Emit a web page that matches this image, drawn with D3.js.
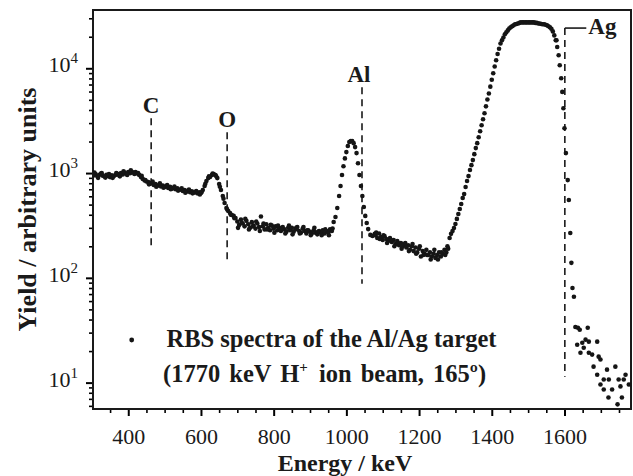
<!DOCTYPE html>
<html>
<head>
<meta charset="utf-8">
<script src="https://cdnjs.cloudflare.com/ajax/libs/d3/7.8.5/d3.min.js"></script>
<style>
  body { margin: 0; background: #fff; }
  svg text { font-family: "Liberation Serif", "Times New Roman", serif; fill: #1a1a1a; }
</style>
</head>
<body>
<div class="chart"></div>
<script>
// RBS spectrum, [energy keV, yield]
var substrateLow = [[305,950],[310,980],[315,930],[320,960],[325,990],[330,945],[335,925],[340,960],[345,935],[350,915],
  [355,950],[360,930],[365,960],[370,985],[375,950],[380,1000],[385,970],[390,1010],[395,985],[400,1020],[405,995],
  [410,1030],[415,1005],[420,1025],[425,990],[430,960],[435,915],[440,880],[445,850],[450,830],[455,820],[460,790],
  [465,805],[470,770],[475,785],[480,755],[485,770],[490,745],[495,760],[500,735],[505,750],[510,720],[515,740],
  [520,710],[525,725],[530,700],[535,715],[540,690],[545,700],[550,675],[555,690],[560,665],[565,680],[570,655],
  [575,670],[580,650],[585,660],[590,640],[595,655],[600,645],[605,689],[610,752],[615,840],[620,895],[625,916],
  [630,957],[635,978],[640,957],[645,895],[650,785],[655,689],[660,605],[665,518],[670,464],[675,435],[680,416],
  [685,398],[690,390],[695,373]];

var substrateScatter = [[307,1010],[317,900],[327,1000],[337,905],[347,980],[357,900],[367,1000],[377,930],[387,1040],
  [397,960],[407,1060],[417,980],[427,1000],[437,940],[447,860],[457,780],[467,830],[477,740],[487,800],[497,725],
  [507,770],[517,700],[527,745],[537,680],[547,715],[557,650],[567,695],[577,640],[587,675],[597,625],[602,660],
  [612,790],[622,930],[632,990],[642,930],[652,740],[662,570],[672,450],[682,400],[692,370]];

var midBand = [[700,345],[705,320],[710,360],[715,330],[720,310],[725,350],[730,325],[735,300],[740,340],[745,315],
  [750,295],[755,330],[760,305],[765,385],[770,310],[775,290],[780,325],[785,300],[790,285],[795,315],[800,295],
  [805,310],[810,285],[815,300],[820,280],[825,305],[830,290],[835,275],[840,300],[845,285],[850,300],[855,275],
  [860,290],[865,305],[870,280],[875,270],[880,295],[885,280],[890,265],[895,285],[900,275],[905,265],[910,285],
  [915,270],[920,260],[925,280],[930,270],[935,285],[940,265],[945,280],[950,270],[955,290],[960,280]];

var midScatter = [[702,300],[712,335],[722,365],[732,290],[742,310],[752,345],[762,280],[772,330],[782,290],[792,320],
  [802,270],[812,315],[822,290],[832,265],[842,315],[852,260],[862,300],[872,265],[882,305],[892,285],[902,255],
  [912,300],[922,275],[932,255],[942,290],[952,255],[962,295]];

var alPeak = [[965,341],[970,381],[975,464],[980,605],[984,752],[988,957],[992,1160],[996,1380],[1000,1585],
  [1004,1810],[1008,1980],[1012,2020],[1016,2020],[1020,1930],[1024,1770],[1028,1550],[1032,1240],[1036,957],
  [1040,752],[1044,605],[1048,474],[1052,390],[1056,334],[1060,292],[1066,257],[1072,251],[1078,263]];

var gapBand = [[1080,255],[1085,240],[1090,265],[1095,245],[1100,230],[1105,250],[1110,235],[1115,225],[1120,240],
  [1125,220],[1130,230],[1135,210],[1140,225],[1145,205],[1150,215],[1155,200],[1160,210],[1165,195],[1170,205],
  [1175,185],[1180,200],[1185,180],[1190,195],[1195,175],[1200,190],[1205,160],[1210,180],[1215,170],[1220,185],
  [1225,165],[1230,175],[1235,160],[1240,170],[1245,155],[1250,165],[1255,175],[1260,160],[1265,170],[1270,185],
  [1275,175],[1280,190]];

var gapScatter = [[1082,270],[1092,235],[1102,255],[1112,215],[1122,230],[1132,200],[1142,215],[1152,190],[1162,215],
  [1172,180],[1182,210],[1192,170],[1202,200],[1212,165],[1222,165],[1232,150],[1242,185],[1252,150],[1262,175],
  [1272,165],[1278,200]];

var agRise = [[1284,240],[1288,263],[1292,280],[1296,299],[1300,327],[1304,365],[1308,407],[1312,454],[1316,507],
  [1320,578],[1324,630],[1328,736],[1332,840],[1336,935],[1340,1070],[1344,1190],[1348,1330],[1352,1515],
  [1356,1730],[1360,1930],[1364,2200],[1368,2510],[1372,2860],[1376,3260],[1380,3720],[1384,4330],[1388,5040],
  [1392,5740],[1396,6680],[1400,7780],[1404,8960],[1408,10400],[1412,11950],[1416,13680],[1420,15350],
  [1424,17230],[1428,18480],[1432,19700],[1436,21100],[1440,22100],[1444,23000],[1448,24000],[1452,24600],
  [1456,25200],[1460,25700],[1464,26300],[1468,26500],[1472,26800],[1476,27100],[1480,27400],[1484,27400],
  [1488,27400],[1492,27400],[1496,27400],[1500,27400],[1504,27400],[1508,27400],[1512,27400],[1516,27400],
  [1520,27100],[1524,27100],[1528,26800],[1532,26800],[1536,26500],[1540,26300],[1544,26300],[1548,26000],
  [1552,25700],[1556,25200],[1560,24600],[1564,23800],[1568,22500],[1572,20600],[1576,18500]];

var agFall = [[1578,18500],[1580,15960],[1584,13300],[1587,10690],[1591,8030],[1594,5950],[1597,4160],[1600,2680],
  [1604,1550],[1609,857],[1612,553],[1616,268],[1619,139],[1622,80],[1626,66]];

var agTail = [[1630,34],[1637,33.4],[1642,32],[1664,33.4],[1635,23],[1649,24],[1658,25.7],[1667,24.6],[1690,24.6],
  [1653,21.5],[1644,19.3],[1667,19.3],[1676,18.5],[1694,17.7],[1699,16.6],[1680,14.2],[1717,13.3],[1740,14.2],
  [1690,11.9],[1708,10.7],[1722,10.7],[1749,10.7],[1768,11.9],[1763,10.7],[1777,9.6],[1699,9.6],[1708,8.6],
  [1731,8.6],[1754,9.2],[1721,7.2],[1758,7.2],[1746,6.2]];

// element edges
var markerLabels = ["C", "O", "Al", "Ag"];
var markerEnergy = [463, 672, 1043, 1601];
var markerTop = [3340, 2455, 6590, 24200];
var markerBottom = [185, 139, 87.7, 11.4];

var xTicks = [400, 600, 800, 1000, 1200, 1400, 1600];
var yTicks = [10, 100, 1000, 10000];
var yTickExp = ["1", "2", "3", "4"];

var legendLine1 = "RBS spectra of the Al/Ag target";

var margin = {top: 10, right: 2, bottom: 67, left: 93},
    width = 633 - margin.left - margin.right,
    height = 476 - margin.top - margin.bottom;

var x = d3.scaleLinear().domain([303, 1783]).range([0, width]);
var y = d3.scaleLog().domain([5.6, 36000]).range([height, 0]);

var svg = d3.select(".chart").append("svg")
    .attr("width", width + margin.left + margin.right)
    .attr("height", height + margin.top + margin.bottom)
  .append("g")
    .attr("transform", "translate(" + margin.left + "," + margin.top + ")");

svg.append("clipPath").attr("id", "plot")
  .append("rect").attr("width", width).attr("height", height);

// x axis, major + minor
var xMinor = d3.range(350, 1783, 50).filter(function(v) { return xTicks.indexOf(v) < 0; });
svg.append("g")
    .attr("transform", "translate(0," + height + ")")
    .call(d3.axisBottom(x).tickValues(xMinor).tickSize(4).tickFormat(""))
    .call(function(g) { g.select(".domain").remove(); g.selectAll("line").attr("stroke-width", 1.6); });

var gx = svg.append("g")
    .attr("transform", "translate(0," + height + ")")
    .call(d3.axisBottom(x).tickValues(xTicks).tickSize(7).tickPadding(12).tickFormat(d3.format("d")));
gx.select(".domain").remove();
gx.selectAll("line").attr("stroke-width", 2);
gx.selectAll("text").style("font-size", "22px").attr("fill", "#1a1a1a");

// y axis, major + minor
var yMinor = [];
[1, 10, 100, 1000, 10000].forEach(function(dec) {
  for (var k = 2; k <= 9; k++) {
    var v = k * dec;
    if (v >= 5.6 && v <= 36000) yMinor.push(v);
  }
});
svg.append("g")
    .call(d3.axisLeft(y).tickValues(yMinor).tickSize(4).tickFormat(""))
    .call(function(g) { g.select(".domain").remove(); g.selectAll("line").attr("stroke-width", 1.6); });

var gy = svg.append("g")
    .call(d3.axisLeft(y).tickValues(yTicks).tickSize(7).tickFormat(""));
gy.select(".domain").remove();
gy.selectAll("line").attr("stroke-width", 2);

var yl = svg.selectAll(".ylab").data(yTicks).enter().append("text")
    .attr("class", "ylab")
    .attr("x", -15)
    .attr("y", function(d) { return y(d) + 4; })
    .attr("text-anchor", "end")
    .style("font-size", "22px");
yl.append("tspan").text("10");
yl.append("tspan").attr("dy", -9).style("font-size", "15px").text(function(d, i) { return yTickExp[i]; });

// frame
svg.append("rect")
    .attr("width", width).attr("height", height)
    .attr("fill", "none").attr("stroke", "#1a1a1a").attr("stroke-width", 2);

// element markers
var mk = svg.selectAll(".marker").data(markerLabels).enter().append("g").attr("class", "marker");
mk.append("line")
    .attr("x1", function(d, i) { return x(markerEnergy[i]); })
    .attr("x2", function(d, i) { return x(markerEnergy[i]); })
    .attr("y1", function(d, i) { return y(markerTop[i]); })
    .attr("y2", function(d, i) { return y(markerBottom[i]); })
    .attr("stroke", "#1a1a1a").attr("stroke-width", 1.6).attr("stroke-dasharray", "7,5");

mk.filter(function(d) { return d !== "Ag"; }).append("text")
    .attr("x", function(d) { return x(markerEnergy[markerLabels.indexOf(d)]) - (d === "Al" ? 3 : 0); })
    .attr("y", function(d) { return y(markerTop[markerLabels.indexOf(d)]) - 5; })
    .attr("text-anchor", "middle")
    .style("font-size", "23px").style("font-weight", "bold")
    .text(function(d) { return d; });

// Ag bracket
var agE = markerEnergy[3], agY = y(markerTop[3]);
svg.append("line")
    .attr("x1", x(agE)).attr("x2", x(1660))
    .attr("y1", agY).attr("y2", agY)
    .attr("stroke", "#1a1a1a").attr("stroke-width", 1.6);
svg.append("text")
    .attr("x", x(1660) + 2).attr("y", agY + 6)
    .style("font-size", "23px").style("font-weight", "bold")
    .text("Ag");

// data points
var allPts = substrateLow.concat(substrateScatter, midBand, midScatter, alPeak, gapBand, gapScatter, agRise, agFall, agTail);
svg.append("g").attr("clip-path", "url(#plot)")
  .selectAll(".dot").data(allPts).enter().append("circle")
    .attr("class", "dot")
    .attr("cx", function(d) { return x(d[0]); })
    .attr("cy", function(d) { return y(d[1]); })
    .attr("r", 2.3)
    .attr("fill", "#151515");

// legend
svg.append("circle").attr("cx", 131.7 - margin.left).attr("cy", 340 - margin.top).attr("r", 2.4).attr("fill", "#151515");
svg.append("text")
    .attr("x", 166.5 - margin.left).attr("y", 347 - margin.top)
    .style("font-size", "24.5px").style("font-weight", "bold")
    .text(legendLine1);
var l2 = svg.append("text")
    .attr("x", 163 - margin.left).attr("y", 382 - margin.top)
    .style("font-size", "24.5px").style("font-weight", "bold")
    .style("word-spacing", "3px");
l2.append("tspan").text("(1770 keV H");
l2.append("tspan").attr("dy", -10).style("font-size", "15px").text("+");
l2.append("tspan").attr("dy", 10).attr("dx", 2).text(" ion beam, 165\u00ba)");

// axis titles
svg.append("text")
    .attr("x", 345 - margin.left).attr("y", 471 - margin.top)
    .attr("text-anchor", "middle")
    .style("font-size", "24px").style("font-weight", "bold")
    .text("Energy / keV");

svg.append("text")
    .attr("transform", "translate(" + (36 - margin.left) + "," + (height / 2) + ") rotate(-90)")
    .attr("text-anchor", "middle")
    .style("font-size", "26px").style("font-weight", "bold")
    .text("Yield / arbitrary units");
</script>
</body>
</html>
